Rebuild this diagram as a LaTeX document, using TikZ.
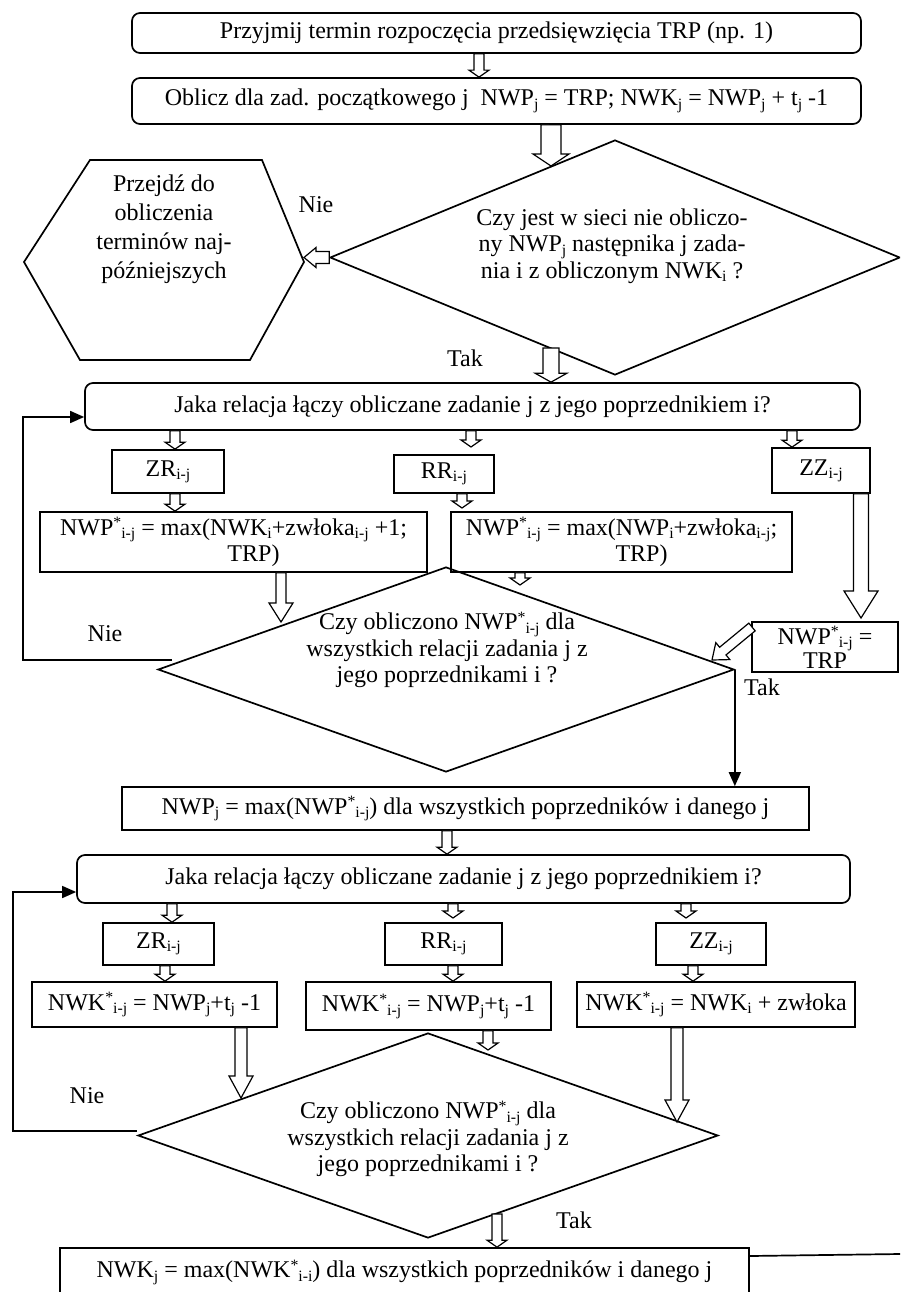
\documentclass[tikz,border=0pt]{standalone}
\usepackage{fontspec}
\setmainfont{Liberation Serif}
\usetikzlibrary{shapes.geometric,arrows.meta,calc}
\newcommand{\lo}[1]{\raisebox{-3.3pt}{\fontsize{15.8}{15.8}\selectfont #1}}
\newcommand{\hi}[1]{\raisebox{7.7pt}{\fontsize{15.8}{15.8}\selectfont #1}}
\tikzset{
  txt/.style={font=\fontsize{24}{26.5}\selectfont, inner sep=0pt, align=center},
  box/.style={txt, draw, line width=1.7pt},
  rbox/.style={box, rounded corners=8pt},
  dia/.style={draw, diamond, line width=1.7pt, inner sep=0pt},
  plain/.style={line width=1.7pt},
  farrow/.style={line width=1.6pt, -{Triangle[length=14pt,width=12pt]}},
  harrow/.style n args={3}{draw, fill=white, line width=1.2pt, line join=miter,
    to path={let \p1=(\tikztostart), \p2=(\tikztotarget),
      \n1={atan2(\y2-\y1,\x2-\x1)}, \n2={veclen(\x2-\x1,\y2-\y1)} in
      ++({\n1+90}:#1) -- ++(\n1:{\n2-#3}) -- ++({\n1+90}:{#2-#1}) -- (\p2)
      -- ++({\n1+180+atan2(#2,#3)}:{veclen(#2,#3)}) -- ++({\n1+90}:{#2-#1})
      -- ++({\n1+180}:{\n2-#3}) -- cycle}},
}
\begin{document}
\begin{tikzpicture}[x=1pt,y=1pt]
\useasboundingbox (0,0) rectangle (900,-1292);
\fill[white] (0,0) rectangle (900,-1292);
\clip (0,0) rectangle (900,-1292);

% ---------- top part
\node[rbox, minimum width=729pt, minimum height=40pt] (b1) at (496.5,-33)
  {Przyjmij termin rozpoczęcia przedsięwzięcia TRP (np. 1)};
\node[rbox, minimum width=729pt, minimum height=46pt] (b2) at (496.5,-101)
  {Oblicz dla zad. początkowego j\ \ NWP\lo{j} = TRP; NWK\lo{j} = NWP\lo{j} + t\lo{j} -1};
\node[dia, minimum width=570pt, minimum height=235pt] (d1) at (615,-257.5) {};
\node[txt] (d1t) at (612,-246)
  {Czy jest w sieci nie obliczo-\\ny NWP\lo{j} następnika j zada-\\nia i z obliczonym NWK\lo{i} ?};
\draw[plain] (24,-262) coordinate (hexL) -- (90,-160) -- (262,-160) -- (304,-262) coordinate (hexR)
  -- (250,-360) -- (80,-360) -- cycle;
\node[txt, font=\fontsize{24}{29}\selectfont] (hext) at (164,-229)
  {Przejdź do\\obliczenia\\terminów naj-\\późniejszych};
\node[txt] (nie1) at (316,-205) {Nie};
\node[txt] (tak1) at (465,-358) {Tak};

\node[rbox, minimum width=775pt, minimum height=47pt] (b3) at (472.5,-406.5)
  {Jaka relacja łączy obliczane zadanie j z jego poprzednikiem i?};

% ---------- first relation row
\node[box, minimum width=112pt, minimum height=43pt] (zr1) at (168,-471.5) {ZR\lo{i-j}};
\node[box, minimum width=100pt, minimum height=38pt] (rr1) at (444,-474) {RR\lo{i-j}};
\node[box, minimum width=98pt, minimum height=45pt] (zz1) at (821,-470.5) {ZZ\lo{i-j}};
\node[box, minimum width=387pt, minimum height=60pt] (nl1) at (233.5,-542)
  {NWP\hi{*}\lo{i-j} = max(NWK\lo{i}+zwłoka\lo{i-j} +1;\\\hspace*{40pt}TRP)};
\node[box, minimum width=341pt, minimum height=60pt] (nr1) at (621.5,-542)
  {NWP\hi{*}\lo{i-j} = max(NWP\lo{i}+zwłoka\lo{i-j};\\\hspace*{40pt}TRP)};
\node[box, minimum width=146pt, minimum height=50pt, font=\fontsize{24}{24}\selectfont] (trp) at (825,-647)
  {NWP\hi{*}\lo{i-j} =\\TRP};

\node[dia, minimum width=576pt, minimum height=205pt] (d2) at (446,-669.5) {};
\node[txt] (d2t) at (447,-650)
  {Czy obliczono NWP\hi{*}\lo{i-j} dla\\wszystkich relacji zadania j z\\jego poprzednikami i ?};
\node[txt] (nie2) at (105,-634) {Nie};
\node[txt] (tak2) at (762,-687) {Tak};

\node[box, minimum width=687pt, minimum height=43pt] (b4) at (465.5,-808.5)
  {NWP\lo{j} = max(NWP\hi{*}\lo{i-j}) dla wszystkich poprzedników i danego j};
\node[rbox, minimum width=773pt, minimum height=48pt] (b5) at (463.5,-879)
  {Jaka relacja łączy obliczane zadanie j z jego poprzednikiem i?};

% ---------- second relation row
\node[box, minimum width=111pt, minimum height=42pt] (zr2) at (158.5,-944) {ZR\lo{i-j}};
\node[box, minimum width=117pt, minimum height=42pt] (rr2) at (443.5,-944) {RR\lo{i-j}};
\node[box, minimum width=110pt, minimum height=42pt] (zz2) at (711,-944) {ZZ\lo{i-j}};
\node[box, minimum width=245pt, minimum height=45pt] (nk1) at (154.5,-1004.5)
  {NWK\hi{*}\lo{i-j} = NWP\lo{j}+t\lo{j} -1};
\node[box, minimum width=245pt, minimum height=48pt] (nk2) at (428.5,-1006)
  {NWK\hi{*}\lo{i-j} = NWP\lo{j}+t\lo{j} -1};
\node[box, minimum width=278pt, minimum height=45pt] (nk3) at (716,-1004.5)
  {NWK\hi{*}\lo{i-j} = NWK\lo{i} + zwłoka};

\node[dia, minimum width=580pt, minimum height=205pt] (d3) at (428,-1135.5) {};
\node[txt] (d3t) at (428,-1139)
  {Czy obliczono NWP\hi{*}\lo{i-j} dla\\wszystkich relacji zadania j z\\jego poprzednikami i ?};
\node[txt] (nie3) at (87,-1096) {Nie};
\node[txt] (tak3) at (574,-1220) {Tak};

\node[box, minimum width=689pt, minimum height=48pt] (b6) at (404.5,-1272)
  {NWK\lo{j} = max(NWK\hi{*}\lo{i-i}) dla wszystkich poprzedników i danego j};

% ---------- free ends
\coordinate (a2e) at (551,-166);
\coordinate (a4s) at (551,-348);
\coordinate (r2e) at (471,-447);
\coordinate (r5e) at (462,-508);
\coordinate (r6e) at (861,-618);
\coordinate (r7e) at (281,-622);
\coordinate (r8e) at (520,-585);
\coordinate (r9s) at (752,-627);
\coordinate (r9e) at (712,-660);
\coordinate (s3e) at (453,-918);
\coordinate (s4e) at (686,-918);
\coordinate (s8e) at (241,-1098);
\coordinate (s9e) at (488,-1050);
\coordinate (s10e) at (677,-1122);
\coordinate (s11s) at (497,-1214);
\coordinate (l1s) at (172,-660);
\coordinate (l2s) at (137,-1131);
\coordinate (fend) at (900,-1254);

% ---------- hollow arrows
\draw[harrow={5}{10}{7}] (b1.south -| 479,0) to (b2.north -| 479,0);
\draw[harrow={10}{18}{12}] (b2.south -| 551,0) to (a2e);
\draw[harrow={6}{10}{12}] (d1.west) to (hexR |- d1.west);
\draw[harrow={8}{16}{9}] (a4s) to (b3.north -| 551,0);

\draw[harrow={5}{10}{7}] (b3.south -| 175,0) to (zr1.north -| 175,0);
\draw[harrow={5}{10}{7}] (b3.south -| 471,0) to (r2e);
\draw[harrow={5}{10}{7}] (b3.south -| 792,0) to (zz1.north -| 792,0);
\draw[harrow={5}{10}{7}] (zr1.south -| 175,0) to (nl1.north -| 175,0);
\draw[harrow={5}{10}{7}] (rr1.south -| 462,0) to (r5e);
\draw[harrow={7.5}{17}{27}] (zz1.south -| 861,0) to (r6e);
\draw[harrow={5}{12}{19}] (nl1.south -| 281,0) to (r7e);
\draw[harrow={5}{10}{7}] (nr1.south -| 520,0) to (r8e);
\draw[harrow={5}{11}{14}] (r9s) to (r9e);

\draw[harrow={5}{10}{7}] (b4.south -| 447,0) to (b5.north -| 447,0);
\draw[harrow={5}{10}{7}] (b5.south -| 172,0) to (zr2.north -| 172,0);
\draw[harrow={5}{10}{7}] (b5.south -| 453,0) to (s3e);
\draw[harrow={5}{10}{7}] (b5.south -| 686,0) to (s4e);
\draw[harrow={5}{10}{7}] (zr2.south -| 165,0) to (nk1.north -| 165,0);
\draw[harrow={5}{10}{7}] (rr2.south -| 453,0) to (nk2.north -| 453,0);
\draw[harrow={5}{10}{7}] (zz2.south -| 693,0) to (nk3.north -| 693,0);
\draw[harrow={6}{12}{22}] (nk1.south -| 241,0) to (s8e);
\draw[harrow={5}{10}{7}] (nk2.south -| 488,0) to (s9e);
\draw[harrow={6}{12}{22}] (nk3.south -| 677,0) to (s10e);
\draw[harrow={5}{10}{7}] (s11s) to (b6.north -| 497,0);

% ---------- filled arrows and lines
\draw[farrow] (l1s) -- ++(-149,0) |- (b3.west |- 0,-417);
\draw[farrow] (d2.east) -- (d2.east |- b4.north);
\draw[farrow] (l2s) -- ++(-124,0) |- (b5.west |- 0,-892);
\draw[plain] (b6.east |- 0,-1256) -- (fend);
\end{tikzpicture}
\end{document}
